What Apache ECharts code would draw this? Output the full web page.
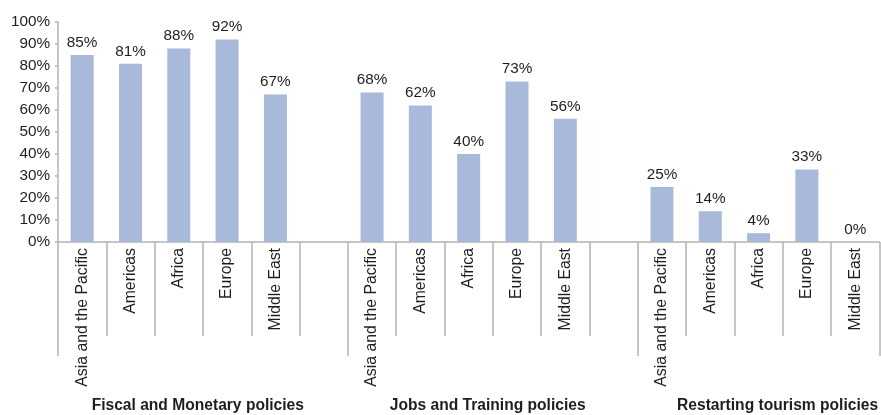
<!DOCTYPE html>
<html>
<head>
<meta charset="utf-8">
<script src="https://cdn.jsdelivr.net/npm/echarts@6/dist/echarts.min.js"></script>
<style>
  html, body { margin: 0; padding: 0; background: #fff; }
  #chart { width: 881px; height: 415px; }
</style>
</head>
<body>
<div id="chart"></div>
<script>
// Regions shown in every policy group
const regions = ['Asia and the Pacific', 'Americas', 'Africa', 'Europe', 'Middle East'];
// Policy groups, in drawing order
const groups = ['Fiscal and Monetary policies', 'Jobs and Training policies', 'Restarting tourism policies'];
// Share of countries (%) per region for each policy group
const fiscalMonetary = [85, 81, 88, 92, 67];
const jobsTraining = [68, 62, 40, 73, 56];
const restartingTourism = [25, 14, 4, 33, 0];
// Y axis ticks
const yMin = 0, yMax = 100, yStep = 10;

// Build one flat category axis with an empty slot between groups
const groupValues = [fiscalMonetary, jobsTraining, restartingTourism];
const categories = [];
const groupAxis = [];
const values = [];
groups.forEach((g, gi) => {
  regions.forEach((r, ri) => {
    categories.push(r);
    groupAxis.push(ri === 2 ? g : '');
    values.push(groupValues[gi][ri]);
  });
  if (gi < groups.length - 1) {
    categories.push('');
    groupAxis.push('');
    values.push(null);
  }
});

const slotsPerGroup = regions.length + 1;
const textColor = '#1e1e1e';
const lineColor = '#b4b4b4';
const font = "'Liberation Sans', Arial, Helvetica, sans-serif";

const chart = echarts.init(document.getElementById('chart'), null, { renderer: 'canvas' });
chart.setOption({
  animation: false,
  backgroundColor: '#ffffff',
  textStyle: { fontFamily: font },
  grid: { left: 58, right: -2, top: 22, bottom: 173, containLabel: false },
  xAxis: [
    {
      type: 'category',
      data: categories,
      boundaryGap: true,
      axisLine: { show: true, lineStyle: { color: lineColor, width: 1.5 } },
      axisTick: { show: true, interval: 0, length: 94, lineStyle: { color: lineColor, width: 1.5 } },
      axisLabel: {
        interval: 0, rotate: 90, margin: 6,
        color: textColor, fontSize: 15.8, fontFamily: font
      },
      splitLine: { show: false }
    },
    {
      type: 'category',
      data: groupAxis,
      position: 'bottom',
      boundaryGap: true,
      axisLine: { show: false },
      axisTick: {
        show: true,
        interval: (idx) => idx % slotsPerGroup === 0,
        length: 114,
        lineStyle: { color: lineColor, width: 1.5 }
      },
      axisLabel: {
        interval: 0, margin: 156,
        color: textColor, fontSize: 15.6, fontWeight: 'bold', fontFamily: font,
        padding: [0, 0, 0, 38]
      },
      splitLine: { show: false }
    }
  ],
  yAxis: {
    type: 'value',
    min: yMin, max: yMax, interval: yStep,
    axisLine: { show: true, lineStyle: { color: lineColor, width: 1.5 } },
    axisTick: { show: true, length: 3, lineStyle: { color: lineColor, width: 1.5 } },
    axisLabel: {
      margin: 8, color: textColor, fontSize: 15.3, fontFamily: font,
      formatter: (v) => v + '%'
    },
    splitLine: { show: false }
  },
  series: [{
    type: 'bar',
    xAxisIndex: 0,
    data: values,
    barWidth: 23,
    itemStyle: { color: '#a8b9d9' },
    label: {
      show: true, position: 'top', distance: 5,
      color: textColor, fontSize: 15.3, fontFamily: font,
      formatter: (p) => p.value + '%'
    }
  }]
});
</script>
</body>
</html>
